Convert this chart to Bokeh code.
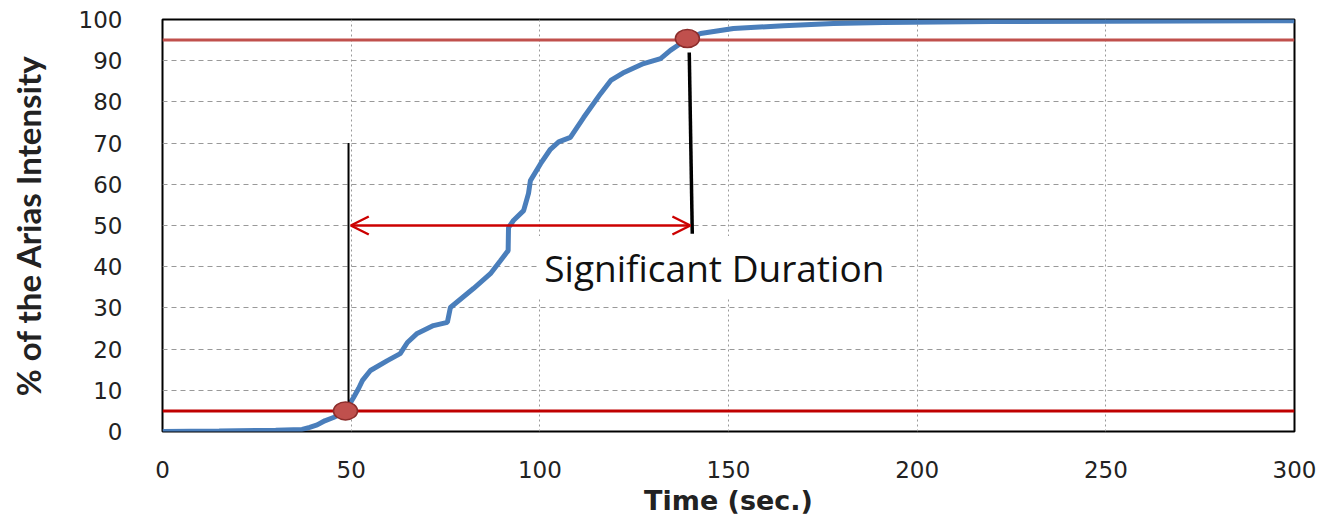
from bokeh.plotting import figure
from bokeh.models import Arrow, OpenHead, ColumnDataSource, FixedTicker
from bokeh.core.properties import value
from bokeh.embed import file_html
from bokeh.resources import INLINE

# Cumulative Arias intensity curve (time in s, % of total)
time_s = [0, 15, 30, 37, 39, 41, 43, 45.3, 47, 48.5, 50.6, 52, 53, 55.1, 59.6, 63, 64.9,
          67.5, 71.8, 75.5, 76.3, 82.4, 86.9, 89.6, 91.6, 91.7, 93, 95.7, 97, 97.5,
          100.2, 102.8, 105, 108.1, 111.6, 116.1, 118.8, 122, 127.5, 132, 134.6, 137,
          139.1, 142.6, 151.3, 164.6, 177.8, 191, 220, 250, 300]
arias_pct = [0, 0.1, 0.3, 0.5, 1.0, 1.6, 2.6, 3.4, 4.2, 5.0, 8.2, 10.5, 12.4, 14.8, 17.2,
             18.9, 21.6, 23.8, 25.7, 26.5, 30.1, 34.7, 38.3, 41.5, 43.9, 49.5, 51.2, 53.6,
             57.8, 60.9, 65, 68.5, 70.3, 71.4, 76.2, 82, 85.2, 87, 89.3, 90.5, 92.5, 94,
             95.2, 96.6, 97.8, 98.5, 99, 99.3, 99.5, 99.6, 99.7]

# Threshold levels
thresh_levels = [5, 95]
thresh_colors = ["#c00000", "#c0504d"]

# Marked points (t5, t95)
mark_t = [48.5, 139.1]
mark_v = [5, 95.4]

# Vertical markers
vx0 = [49.3, 139.6]
vy0 = [6.5, 92]
vx1 = [49.3, 140.4]
vy1 = [70, 48]
v_width = [2, 3.5]

# Duration arrow
arrow_x = [49.9, 139.9]
arrow_y = 50

label_text = ["Significant Duration"]
label_x = [99.6]
label_y = [39.8]

x_ticks = [0, 50, 100, 150, 200, 250, 300]
y_ticks = [0, 10, 20, 30, 40, 50, 60, 70, 80, 90, 100]

p = figure(width=1320, height=522, x_range=(0, 300), y_range=(0, 100),
           output_backend="svg", toolbar_location=None,
           min_border_left=162, min_border_top=19, min_border_right=26, min_border_bottom=91)

p.background_fill_color = "white"
p.border_fill_color = "white"
p.outline_line_color = "black"
p.outline_line_width = 2

p.xaxis.ticker = FixedTicker(ticks=x_ticks)
p.yaxis.ticker = FixedTicker(ticks=y_ticks)
for ax in (p.xaxis, p.yaxis):
    ax.axis_line_color = None
    ax.major_tick_line_color = None
    ax.minor_tick_line_color = None
    ax.major_tick_out = 0
    ax.major_tick_in = 0
    ax.minor_tick_out = 0
    ax.major_label_text_font = "DejaVu Sans"
    ax.major_label_text_font_size = "23px"
    ax.major_label_text_color = "#222222"

p.xaxis.major_label_standoff = 29
p.yaxis.major_label_standoff = 40

p.xaxis.axis_label = "Time (sec.)"
p.xaxis.axis_label_text_font = "DejaVu Sans"
p.xaxis.axis_label_text_font_style = "bold"
p.xaxis.axis_label_text_font_size = "27px"
p.xaxis.axis_label_standoff = 4
p.xaxis.axis_label_text_color = "#222222"

p.yaxis.axis_label = "% of the Arias Intensity"
p.yaxis.axis_label_text_font = "Lato"
p.yaxis.axis_label_text_font_style = "bold"
p.yaxis.axis_label_text_font_size = "33px"
p.yaxis.axis_label_standoff = 28
p.yaxis.axis_label_text_color = "#222222"

p.xgrid.grid_line_color = "#999999"
p.xgrid.grid_line_dash = "2 3"
p.xgrid.grid_line_width = 1
p.ygrid.grid_line_color = "#999999"
p.ygrid.grid_line_dash = "5 4"
p.ygrid.grid_line_width = 1

# label with white background (hides grid)
p.text(x=label_x, y=label_y, text=label_text, text_font=value("Open Sans"),
       text_font_size="37px", text_align="left", text_baseline="middle",
       text_color="#111111", background_fill_color="white", padding=6)

# curve
p.line(time_s, arias_pct, line_color="#4a7ebb", line_width=5)

# thresholds
for lv, c in zip(thresh_levels, thresh_colors):
    p.line([0, 300], [lv, lv], line_color=c, line_width=3)

# vertical markers
p.segment(x0=vx0, y0=vy0, x1=vx1, y1=vy1, line_color="black", line_width=v_width)

# arrow
asrc = ColumnDataSource(dict(x0=[arrow_x[0]], x1=[arrow_x[1]], y0=[arrow_y], y1=[arrow_y]))
p.add_layout(Arrow(x_start="x0", y_start="y0", x_end="x1", y_end="y1", source=asrc,
                   line_color="#cc0000", line_width=2.5,
                   start=OpenHead(size=18, line_color="#cc0000", line_width=2.5),
                   end=OpenHead(size=18, line_color="#cc0000", line_width=2.5)))

# marked points
p.ellipse(x=mark_t, y=mark_v, width=24, height=18, width_units="screen", height_units="screen",
          fill_color="#c0504d", line_color="#8c2d2b", line_width=1.5)

open("out.html", "w").write(file_html(p, INLINE))
